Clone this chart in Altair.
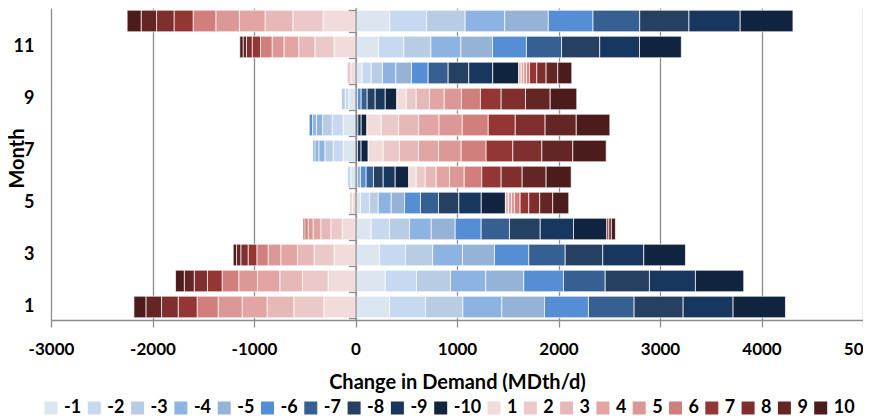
import altair as alt
import pandas as pd

months = list(range(1, 13))
categories = ["-1", "-2", "-3", "-4", "-5", "-6", "-7", "-8", "-9", "-10",
              "1", "2", "3", "4", "5", "6", "7", "8", "9", "10"]

# values per category, months 1..12 (MDth/d)
v_m1 = [335, 293, 236, 155, 49, -46, -122, -122, -66, 66, 228, 337]
v_m2 = [355, 308, 257, 180, 89, -33, -98, -108, -36, 89, 247, 363]
v_m3 = [368, 335, 268, 197, 86, 0, -82, -95, -36, 111, 268, 380]
v_m4 = [383, 347, 293, 214, 128, 17, -60, -59, 0, 131, 295, 390]
v_m5 = [421, 375, 315, 236, 131, 32, -39, -39, 20, 155, 312, 430]
v_m6 = [433, 391, 338, 256, 157, 56, -17, -33, 36, 164, 334, 440]
v_m7 = [450, 411, 359, 279, 178, 72, 0, 0, 59, 197, 346, 460]
v_m8 = [483, 436, 370, 303, 200, 96, 20, 23, 79, 203, 376, 485]
v_m9 = [492, 453, 404, 328, 221, 118, 35, 33, 99, 236, 392, 505]
v_m10 = [516, 476, 411, 328, 238, 134, 70, 56, 114, 256, 412, 520]
v_p1 = [-312, -270, -211, -131, -33, 73, 148, 142, 93, -45, -212, -320]
v_p2 = [-296, -252, -197, -112, -22, 89, 160, 171, 98, -37, -188, -297]
v_p3 = [-263, -224, -164, -99, 30, 108, 188, 197, 131, 25, -160, -274]
v_p4 = [-246, -220, -164, -76, 30, 131, 197, 201, 145, 25, -145, -253]
v_p5 = [-236, -184, -125, -49, 29, 145, 223, 229, 170, 28, -117, -232]
v_p6 = [-207, -164, -111, -33, 56, 173, 246, 256, 187, 28, -114, -224]
v_p7 = [-187, -144, -86, -16, 85, 191, 263, 266, 204, 72, -82, -188]
v_p8 = [-164, -131, -72, 20, 108, 207, 286, 294, 240, 92, -56, -172]
v_p9 = [-154, -98, -42, 25, 128, 236, 305, 307, 243, 115, -34, -152]
v_p10 = [-118, -86, -33, 40, 158, 247, 329, 331, 262, 138, -32, -138]

series = [v_m1, v_m2, v_m3, v_m4, v_m5, v_m6, v_m7, v_m8, v_m9, v_m10,
          v_p1, v_p2, v_p3, v_p4, v_p5, v_p6, v_p7, v_p8, v_p9, v_p10]

colors = ["#dce6f1", "#c6d9f0", "#b8cce4", "#8db3e2", "#95b3d7",
          "#558ed5", "#366092", "#254061", "#17375e", "#10243f",
          "#f2dcdb", "#ebc9c8", "#e6b9b8", "#e2a5a4", "#dc9896",
          "#d17f7c", "#943634", "#7f302e", "#632624", "#4c1b1b"]

x_ticks = [-3000, -2000, -1000, 0, 1000, 2000, 3000, 4000, 5000]
y_labels = [1, 3, 5, 7, 9, 11]

rows = []
for i, (cat, vals) in enumerate(zip(categories, series)):
    for m, v in zip(months, vals):
        if v != 0:
            rows.append({"Month": m, "Category": cat, "Value": v, "Order": i})
df = pd.DataFrame(rows)

FONT = "Lato"
GRAY = "#8c8c8c"

y_scale = alt.Scale(domain=months[::-1], paddingInner=0.17, paddingOuter=0.085)

bars = alt.Chart(df).mark_bar(stroke="#ffffff", strokeWidth=0.7).encode(
    x=alt.X("Value:Q",
            scale=alt.Scale(domain=[-3000, 5000], nice=False, zero=False),
            axis=alt.Axis(values=x_ticks, grid=True, gridColor=GRAY, gridWidth=1.3,
                          domainColor=GRAY, domainWidth=1.3, tickColor=GRAY, tickWidth=1.3,
                          tickSize=7, labelPadding=14, labelFlush=False,
                          labelExpr="datum.value + ''",
                          labelFont=FONT, labelFontSize=17, labelFontWeight="bold",
                          labelColor="black",
                          title="Change in Demand (MDth/d)", titleFont=FONT,
                          titleFontSize=20, titleFontWeight="bold", titleColor="black",
                          titlePadding=15)),
    y=alt.Y("Month:O", scale=y_scale,
            axis=alt.Axis(values=y_labels, domain=False, ticks=False, grid=False,
                          labelPadding=17, labelFont=FONT, labelFontSize=18,
                          labelFontWeight="bold", labelColor="black", labelAngle=0,
                          title="Month", titleFont=FONT, titleFontSize=20,
                          titleFontWeight="bold", titleColor="black", titleAngle=270,
                          titleX=-28, titleY=150, titleAlign="center",
                          titleBaseline="alphabetic")),
    color=alt.Color("Category:N", title=None,
                    scale=alt.Scale(domain=categories, range=colors),
                    legend=alt.Legend(orient="none", legendX=-9, legendY=391,
                                      direction="horizontal", columns=20, padding=0,
                                      symbolType="square", symbolSize=169,
                                      symbolStrokeWidth=0, labelFont=FONT,
                                      labelFontSize=18, labelFontWeight="bold",
                                      labelColor="black", labelOffset=4,
                                      columnPadding=3.3)),
    order=alt.Order("Order:Q"),
)

zero_axis = alt.Chart(df).mark_point(opacity=0).encode(
    y=alt.Y("Month:O", scale=y_scale,
            axis=alt.Axis(orient="left", offset=-304.5, labels=False, title="",
                          tickBand="extent", tickSize=7, tickColor=GRAY, tickWidth=1.3,
                          domainColor=GRAY, domainWidth=1.3, grid=False, zindex=1)),
)

chart = alt.layer(bars, zero_axis).resolve_axis(y="independent").properties(
    width=812, height=312,
    autosize=alt.AutoSizeParams(type="none"),
    padding={"left": 43, "top": 0, "right": 0, "bottom": 96},
).configure_view(strokeWidth=0)

chart.save("out.html", embed_options={"renderer": "svg", "actions": False})
